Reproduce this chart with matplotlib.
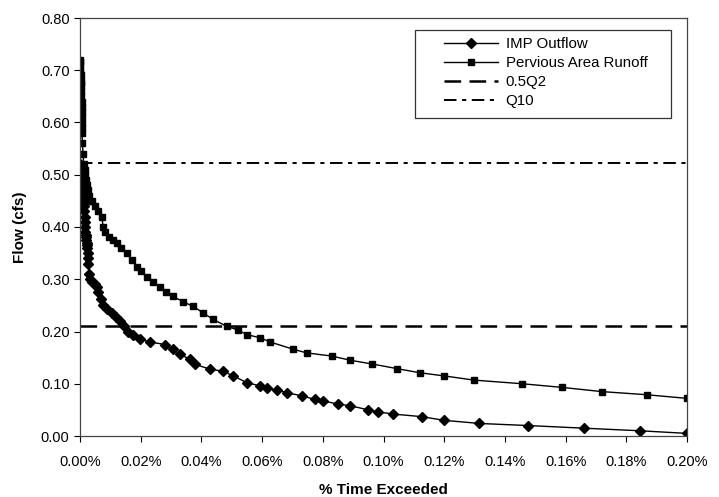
import matplotlib

matplotlib.use("Agg")
import matplotlib.pyplot as plt
from matplotlib.patches import Rectangle
from matplotlib.ticker import FuncFormatter, MultipleLocator

plt.rcParams["font.family"] = ["Liberation Sans", "DejaVu Sans"]
plt.rcParams["lines.scale_dashes"] = False

# % time exceeded (x) and flow in cfs (y)
imp_x = [0.0000, 0.0001, 0.0002, 0.0003, 0.0004, 0.0005, 0.0006, 0.0007, 0.0008, 0.0009,
         0.0010, 0.0011, 0.0012, 0.0013, 0.0014, 0.0015, 0.0016, 0.0017, 0.0018, 0.0019,
         0.0020, 0.0021, 0.0022, 0.0023, 0.0024, 0.0025, 0.0026, 0.0028, 0.0030, 0.0033,
         0.0040, 0.0048, 0.0055, 0.0060, 0.0068, 0.0077, 0.0090, 0.0104, 0.0118, 0.0132,
         0.0145, 0.0159, 0.0175, 0.0198, 0.0231, 0.0280, 0.0307, 0.0330, 0.0362, 0.0379,
         0.0428, 0.0472, 0.0505, 0.0550, 0.0593, 0.0615, 0.0648, 0.0681, 0.0730, 0.0774,
         0.0802, 0.0851, 0.0890, 0.0950, 0.0983, 0.1032, 0.1126, 0.1200, 0.1316, 0.1477,
         0.1659, 0.1845, 0.2000]
imp_y = [0.52, 0.515, 0.51, 0.505, 0.50, 0.495, 0.49, 0.485, 0.48, 0.475,
         0.47, 0.46, 0.45, 0.44, 0.43, 0.42, 0.41, 0.40, 0.39, 0.385,
         0.38, 0.375, 0.37, 0.365, 0.36, 0.35, 0.34, 0.33, 0.31, 0.30,
         0.295, 0.29, 0.286, 0.275, 0.262, 0.251, 0.243, 0.236, 0.228, 0.22,
         0.21, 0.20, 0.193, 0.185, 0.180, 0.175, 0.166, 0.156, 0.147, 0.137,
         0.128, 0.124, 0.115, 0.102, 0.096, 0.091, 0.088, 0.083, 0.077, 0.070,
         0.067, 0.061, 0.058, 0.050, 0.046, 0.042, 0.037, 0.030, 0.024, 0.020,
         0.015, 0.010, 0.005]

perv_x = [0.0000, 0.0000, 0.0000, 0.0001, 0.0001, 0.0002, 0.0003, 0.0003, 0.0004, 0.0004,
          0.0004, 0.0005, 0.0005, 0.0005, 0.0006, 0.0006, 0.0006, 0.0007, 0.0008, 0.0010,
          0.0012, 0.0015, 0.0018, 0.0020, 0.0023, 0.0026, 0.0030, 0.0033, 0.0040, 0.0049,
          0.0060, 0.0071, 0.0077, 0.0082, 0.0095, 0.0110, 0.0121, 0.0135, 0.0154, 0.0170,
          0.0187, 0.0200, 0.0220, 0.0240, 0.0264, 0.0285, 0.0307, 0.0340, 0.0373, 0.0405,
          0.0439, 0.0483, 0.0520, 0.0550, 0.0593, 0.0626, 0.0703, 0.0747, 0.0830, 0.0890,
          0.0961, 0.1044, 0.1120, 0.1200, 0.1298, 0.1457, 0.1589, 0.1719, 0.1867, 0.2000]
perv_y = [0.72, 0.715, 0.71, 0.70, 0.695, 0.69, 0.68, 0.675, 0.67, 0.66,
          0.65, 0.64, 0.63, 0.62, 0.61, 0.60, 0.59, 0.58, 0.56, 0.54,
          0.52, 0.51, 0.50, 0.49, 0.48, 0.47, 0.46, 0.45, 0.45, 0.44,
          0.43, 0.42, 0.40, 0.39, 0.38, 0.375, 0.369, 0.36, 0.35, 0.337,
          0.324, 0.315, 0.305, 0.295, 0.286, 0.276, 0.267, 0.257, 0.248, 0.236,
          0.223, 0.21, 0.203, 0.194, 0.188, 0.18, 0.166, 0.159, 0.153, 0.145,
          0.138, 0.129, 0.121, 0.115, 0.107, 0.100, 0.093, 0.085, 0.079, 0.072]

half_q2 = 0.21
q10 = 0.523

fig = plt.figure(figsize=(7.19, 4.97), dpi=100)
ax = fig.add_axes([80 / 719, 61 / 497, 607 / 719, 418 / 497])

ax.plot(imp_x, imp_y, color="black", linewidth=1.0, marker="D", markersize=5,
        label="IMP Outflow")
ax.plot(perv_x, perv_y, color="black", linewidth=1.0, marker="s", markersize=5,
        label="Pervious Area Runoff")
ax.axhline(half_q2, color="black", linewidth=1.8, dashes=(12, 6), label="0.5Q2")
ax.axhline(q10, color="black", linewidth=1.4, dashes=(9, 4, 3, 4), label="Q10")

ax.set_xlim(0, 0.2)
ax.set_ylim(0, 0.8)
ax.xaxis.set_major_locator(MultipleLocator(0.02))
ax.yaxis.set_major_locator(MultipleLocator(0.1))
ax.xaxis.set_major_formatter(FuncFormatter(lambda v, _: f"{v:.2f}%"))
ax.yaxis.set_major_formatter(FuncFormatter(lambda v, _: f"{v:.2f}"))
ax.tick_params(direction="out", length=4, width=0.8, labelsize=10.5, colors="black")
ax.tick_params(axis="x", pad=10)
for s in ax.spines.values():
    s.set_color("#444444")
    s.set_linewidth(0.9)

ax.set_xlabel("% Time Exceeded", fontsize=11, fontweight="bold", labelpad=10)
ax.set_ylabel("Flow (cfs)", fontsize=11, fontweight="bold", labelpad=10)

# legend box drawn separately so the wide left padding matches
fig.patches.append(Rectangle((415 / 719, 1 - 118 / 497), 256 / 719, 88 / 497,
                             transform=fig.transFigure, fill=False,
                             edgecolor="#333333", linewidth=0.9))
ax.legend(loc="upper left", bbox_to_anchor=(444 / 719, 1 - 37 / 497),
          bbox_transform=fig.transFigure, fontsize=10.8, frameon=False,
          borderpad=0, handlelength=3.6, handletextpad=0.5, labelspacing=0.33,
          borderaxespad=0)

fig.savefig("out.png", dpi=100)
